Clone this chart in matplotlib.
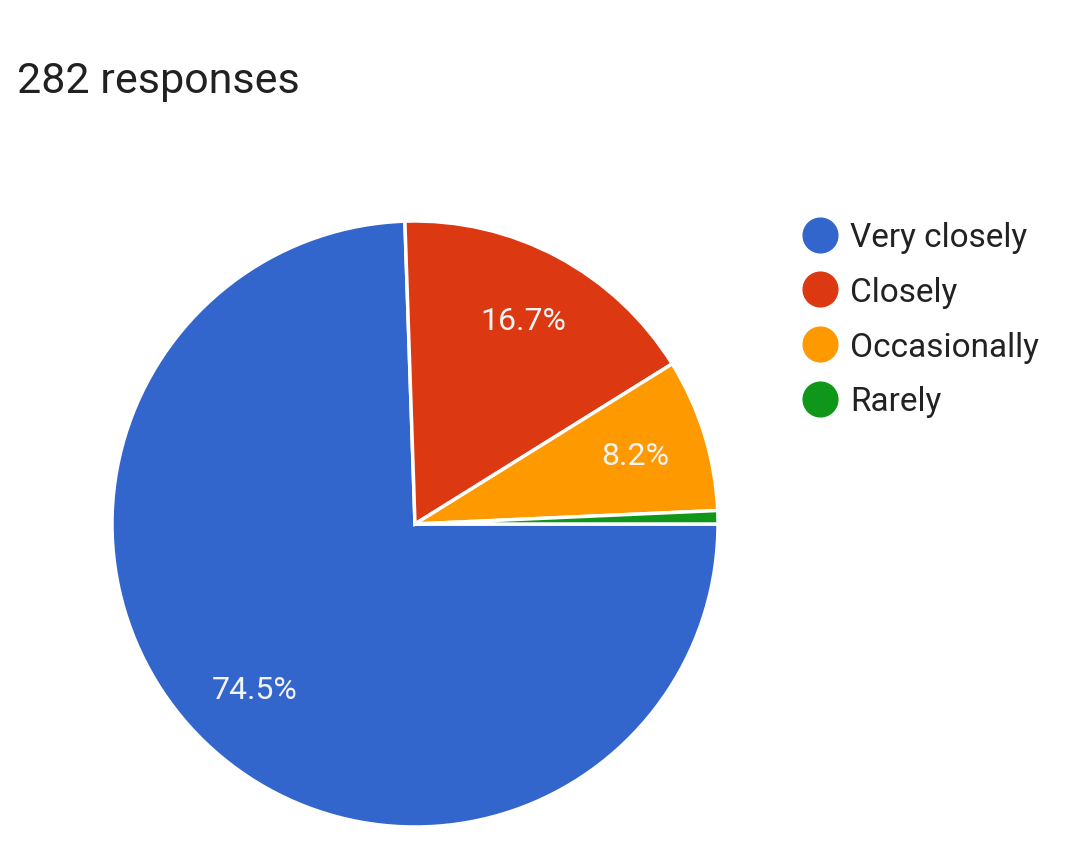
import matplotlib.pyplot as plt
from matplotlib.lines import Line2D

# Données (282 réponses)
categories = ['Very closely', 'Closely', 'Occasionally', 'Rarely']
counts = [210, 47, 23, 2]
colors = ['#3366cc', '#dc3912', '#ff9900', '#109618']
title = '282 responses'

plt.rcParams['font.family'] = ['Roboto', 'DejaVu Sans']

fig = plt.figure(figsize=(10.8, 8.45), dpi=100)

# Centre du camembert (415, 525) px, rayon 303 px
cx, cy, r = 415, 525, 303
W, H = 1080, 845
ax = fig.add_axes([(cx - r) / W, (H - cy - r) / H, 2 * r / W, 2 * r / H])

def pct_label(p):
    return f'{p:.1f}%' if p > 5 else ''

wedges, texts, autotexts = ax.pie(
    counts, colors=colors, startangle=0, counterclock=False,
    autopct=pct_label, pctdistance=0.76,
    wedgeprops=dict(edgecolor='white', linewidth=2.5),
    textprops=dict(color='#f4f4f4', fontsize=23))
ax.set_xlim(-1.0, 1.0)
ax.set_ylim(-1.0, 1.0)
ax.set_aspect('equal')

fig.text(17 / W, 1 - 93 / H, title, fontsize=31, color='#212121',
         ha='left', va='baseline')

handles = [Line2D([0], [0], marker='o', linestyle='none', markersize=25,
                  markerfacecolor=c, markeredgecolor=c) for c in colors]
leg = fig.legend(handles, categories, loc='upper left',
                 bbox_to_anchor=(790 / W, 1 - 209 / H), frameon=False,
                 prop=dict(size=24),
                 handlelength=1.0, handletextpad=0.4,
                 labelspacing=0.68, borderaxespad=0, labelcolor='#222222')

plt.savefig('out.png', dpi=100, facecolor='white')
